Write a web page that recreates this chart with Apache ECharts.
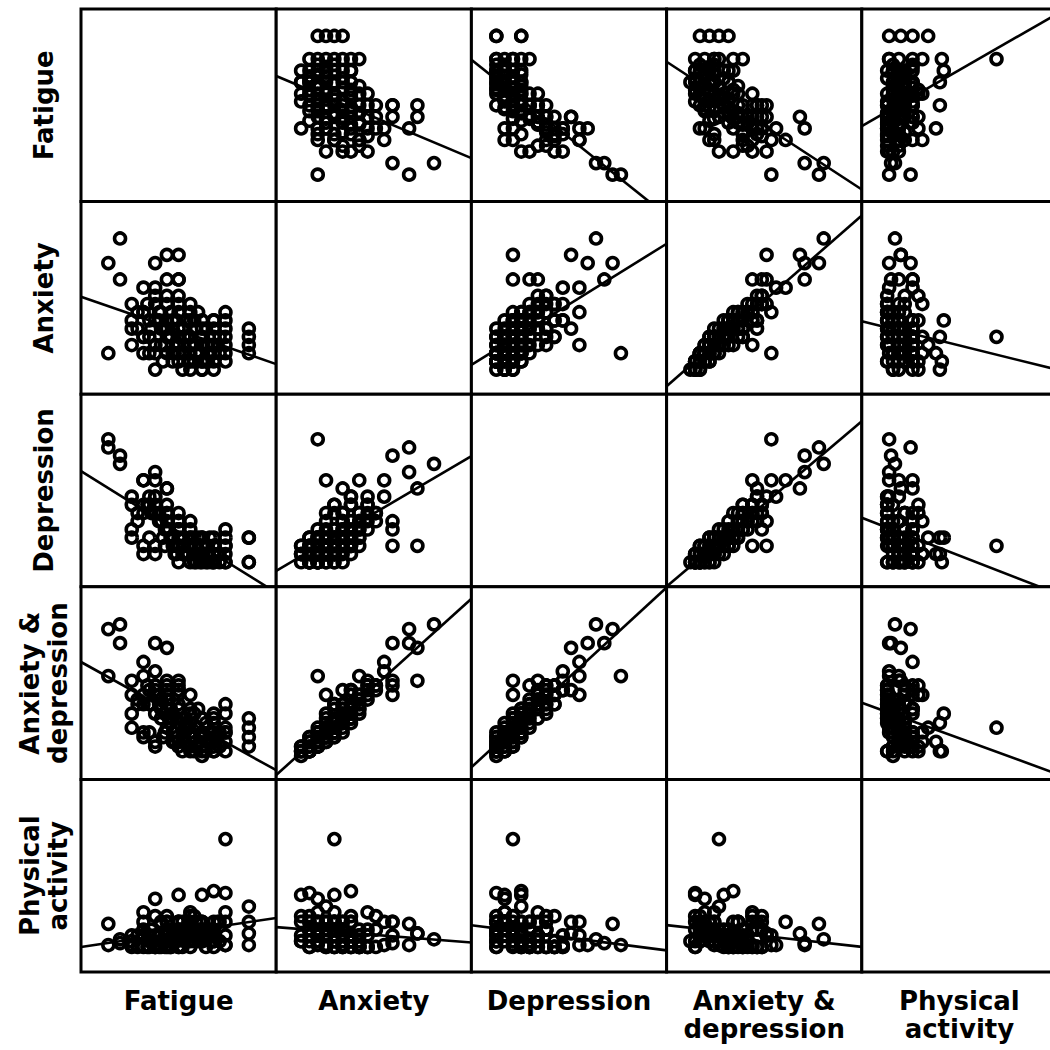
<!DOCTYPE html>
<html>
<head>
<meta charset="utf-8">
<script src="https://cdn.jsdelivr.net/npm/echarts@6/dist/echarts.min.js"></script>
<style>
    html, body { margin: 0; padding: 0; background: #fff; }
    #main { width: 1050px; height: 1050px; }
</style>
</head>
<body>
<div id="main"></div>
<script>
const labels = ['Fatigue', 'Anxiety', 'Depression', 'Anxiety &\ndepression', 'Physical\nactivity']

// one entry per subject, same order in every array
const fatigue = [86, 86, 86, 86, 74, 74, 74, 74, 74, 74, 74, 14, 14, 20, 20, 26, 32, 26, 32, 38, 44, 38, 50, 44, 38, 32, 56, 32, 44, 38, 50, 50, 38, 50, 68, 62,
    68, 68, 68, 68, 68, 65, 68, 62, 62, 59, 62, 62, 62, 62, 65, 56, 53, 56, 56, 59, 56, 56, 56, 53, 50, 47, 50, 53, 50, 47, 50, 50, 53,
    44, 41, 44, 47, 44, 41, 44, 44, 38, 35, 41, 38, 38, 38, 32, 35, 32, 26, 26, 62, 68, 56, 50, 47, 35,
    71, 71, 67, 64, 64, 61, 61, 58, 58, 55, 55, 52, 52, 49, 49, 46, 46, 43, 43, 40, 40, 36, 34, 29, 29, 58, 52, 65, 70, 48, 54, 45, 60, 66, 42, 50]
const anxiety = [2, 3, 4, 5, 4, 1, 2, 3, 5, 6, 7, 2, 13, 11, 16, 5, 2, 3, 4, 0, 14, 13, 11, 11, 10, 10, 8, 7, 5, 3, 14, 11, 2, 4, 6, 0,
    1, 2, 3, 4, 5, 2, 6, 0, 1, 2, 3, 4, 5, 6, 3, 1, 2, 3, 4, 5, 6, 7, 2, 3, 1, 2, 3, 4, 5, 6, 7, 8, 4,
    2, 3, 4, 5, 6, 7, 8, 9, 3, 4, 5, 6, 8, 9, 4, 6, 7, 6, 8, 1, 0, 0, 2, 1, 2,
    2, 4, 3, 1, 5, 2, 4, 3, 6, 1, 4, 2, 5, 3, 6, 4, 7, 5, 3, 6, 7, 5, 8, 5, 7, 1, 0, 1, 3, 2, 6, 4, 7, 2, 1, 9]
const depression = [0, 3, 0, 3, 2, 0, 1, 2, 0, 3, 4, 15, 14, 13, 12, 4, 2, 3, 1, 2, 9, 11, 4, 5, 8, 10, 5, 10, 9, 10, 2, 2, 1, 3, 3, 1,
    0, 0, 1, 1, 2, 1, 2, 0, 1, 0, 2, 1, 3, 2, 0, 0, 1, 2, 3, 1, 4, 2, 3, 1, 2, 3, 4, 2, 5, 3, 4, 6, 1,
    4, 5, 6, 3, 7, 5, 4, 6, 6, 7, 5, 8, 7, 6, 7, 8, 6, 7, 8, 3, 1, 2, 0, 2, 3,
    0, 1, 0, 0, 2, 1, 0, 1, 3, 1, 2, 2, 3, 1, 2, 3, 3, 4, 2, 5, 6, 6, 7, 6, 5, 0, 1, 2, 1, 1, 1, 4, 3, 3, 3, 5]
const anxDep = [2, 6, 4, 8, 6, 1, 3, 5, 5, 9, 11, 17, 27, 24, 28, 9, 4, 6, 5, 2, 23, 24, 15, 16, 18, 20, 13, 17, 14, 13, 16, 13, 3, 7, 9, 1,
    1, 2, 4, 5, 7, 3, 8, 0, 2, 2, 5, 5, 8, 8, 3, 1, 3, 5, 7, 6, 10, 9, 5, 4, 3, 5, 7, 6, 10, 9, 11, 14, 5,
    6, 8, 10, 8, 13, 12, 12, 15, 9, 11, 10, 14, 15, 15, 11, 14, 13, 13, 16, 4, 1, 2, 2, 3, 5,
    2, 5, 3, 1, 7, 3, 4, 4, 9, 2, 6, 4, 8, 4, 8, 7, 10, 9, 5, 11, 13, 11, 15, 11, 12, 1, 1, 3, 4, 3, 7, 8, 10, 5, 4, 14]
const physical = [20, 34, 26, 14, 69, 41, 31, 14, 19, 26, 14, 14, 25, 15, 17, 16, 19, 14, 31, 19, 20, 14, 26, 19, 14, 26, 31, 19, 26, 14, 20, 26, 38, 40, 42, 40,
    13, 16, 26, 22, 19, 22, 19, 16, 22, 26, 19, 26, 22, 16, 19, 22, 19, 19, 16, 22, 26, 13, 19, 22, 19, 16, 22, 16, 19, 16, 13, 22, 22,
    16, 13, 26, 19, 29, 16, 13, 22, 13, 16, 26, 13, 13, 29, 13, 13, 22, 13, 19, 26, 16, 29, 26, 22, 19,
    16, 26, 22, 13, 19, 26, 22, 19, 16, 26, 19, 22, 13, 19, 16, 13, 13, 13, 19, 19, 13, 22, 13, 13, 19, 29, 26, 22, 26, 19, 19, 13, 16, 19, 16, 13]

const axisMin = [0, -3, -3, -5, 0]
const axisMax = [100, 20.5, 20.5, 36, 100]

const vars = [fatigue, anxiety, depression, anxDep, physical]

const left0 = 81
const top0 = 9
const cellW = 195.2
const cellH = 192.6
const font = 'bold 26px "DejaVu Sans", sans-serif'

// least squares y on x
function fit(xs, ys) {
    let n = xs.length
    let mx = 0, my = 0
    for (let k = 0; k < n; k++) { mx += xs[k]; my += ys[k] }
    mx /= n
    my /= n
    let sxy = 0, sxx = 0
    for (let k = 0; k < n; k++) {
        sxy += (xs[k] - mx) * (ys[k] - my)
        sxx += (xs[k] - mx) * (xs[k] - mx)
    }
    let b = sxy / sxx
    return { a: my - b * mx, b: b }
}

let grids = [], xAxes = [], yAxes = [], series = [], graphics = []

for (let i = 0; i < 5; i++) {
    for (let j = 0; j < 5; j++) {
        let idx = grids.length
        grids.push({
            left: left0 + j * cellW, top: top0 + i * cellH, width: cellW, height: cellH,
            outerBoundsMode: 'none', containLabel: false,
            show: true, borderColor: '#000', borderWidth: 3, backgroundColor: '#fff'
        })
        xAxes.push({ gridIndex: idx, type: 'value', min: axisMin[j], max: axisMax[j], show: false })
        yAxes.push({ gridIndex: idx, type: 'value', min: axisMin[i], max: axisMax[i], show: false })
        if (i === j) continue

        let xs = vars[j], ys = vars[i]
        let pts = xs.map((v, k) => [v, ys[k]])
        series.push({
            type: 'scatter', xAxisIndex: idx, yAxisIndex: idx, data: pts,
            symbol: 'circle', symbolSize: 11, silent: true,
            itemStyle: { color: 'rgba(0,0,0,0)', borderColor: '#000', borderWidth: 3.6, opacity: 1 }
        })
        let f = fit(xs, ys)
        series.push({
            type: 'line', xAxisIndex: idx, yAxisIndex: idx, clip: true, silent: true,
            showSymbol: false, symbol: 'none',
            lineStyle: { color: '#000', width: 2.6 },
            data: [[axisMin[j], f.a + f.b * axisMin[j]], [axisMax[j], f.a + f.b * axisMax[j]]]
        })
    }
}

for (let k = 0; k < 5; k++) {
    graphics.push({
        type: 'text', x: left0 + (k + 0.5) * cellW, y: 987,
        style: { text: labels[k], font: font, fill: '#000', textAlign: 'center', textVerticalAlign: 'top', lineHeight: 28 }
    })
    graphics.push({
        type: 'text', x: 44, y: top0 + (k + 0.5) * cellH, rotation: Math.PI / 2,
        style: { text: labels[k], font: font, fill: '#000', textAlign: 'center', textVerticalAlign: 'middle', lineHeight: 28 }
    })
}

const myChart = echarts.init(document.getElementById('main'), null, { renderer: 'svg' })
myChart.setOption({
    animation: false,
    backgroundColor: '#fff',
    grid: grids,
    xAxis: xAxes,
    yAxis: yAxes,
    series: series,
    graphic: graphics
})
</script>
</body>
</html>
